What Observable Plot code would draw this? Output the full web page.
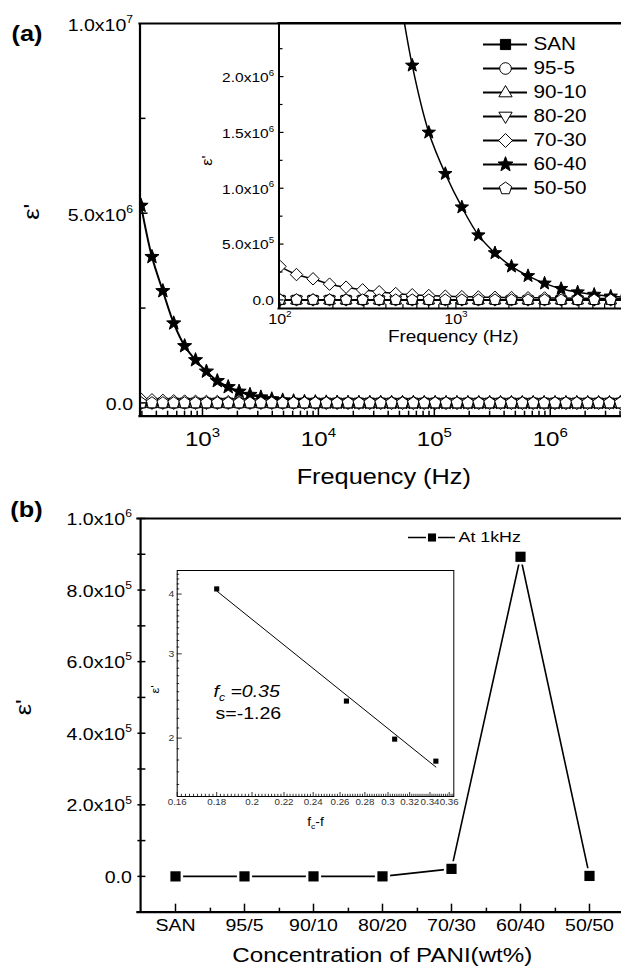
<!DOCTYPE html>
<html><head><meta charset="utf-8">
<script src="https://cdn.jsdelivr.net/npm/d3@7"></script>
<script src="https://cdn.jsdelivr.net/npm/@observablehq/plot@0.6"></script>
<style>
html,body{margin:0;padding:0;background:#fff;}
#fig{position:relative;width:621px;height:975px;overflow:hidden;background:#fff;}
#fig svg{position:absolute;left:0;top:0;}
</style></head>
<body><div id="fig"></div>
<script>
// ---------------- DATA ----------------
const freqHz = [100,124.2,154.2,191.4,237.7,295.1,366.4,454.9,564.8,701.3,
  870.7,1081,1342,1667,2069,2569,3190,3961,4918,6106,
  7581,9410,11685,14505,18013,22361,27765,34467,42795,53128,
  65963,81901,101709,126267,156780,194670,241680,300070,372590,462630,
  574350,713150,885480,1099500,1365000,1694700,2104200,2612700,3243800,4027200,5000000];
const seriesNames = ["SAN","95-5","90-10","80-20","70-30","60-40","50-50"];
const epsSAN = [3.3,3.3,3.2,3.2,3.2,3.2,3.2,3.1,3.1,3.1, 3.1,3.1,3.1,3.1,3.1,3.1,3.1,3.1,3.0,3.0,
  3.0,3.0,3.0,3.0,3.0,3.0,3.0,3.0,3.0,3.0, 3.0,3.0,3.0,3.0,3.0,2.9,2.9,2.9,2.9,2.9,
  2.9,2.9,2.9,2.9,2.9,2.9,2.9,2.9,2.9,2.9,2.9];
const eps95_5 = [9,9,8,8,8,8,7,7,7,7, 7,7,7,6,6,6,6,6,6,6, 6,6,6,6,6,6,6,6,6,6,
  5,5,5,5,5,5,5,5,5,5, 5,5,5,5,5,5,5,5,5,5,5];
const eps90_10 = [25,22,20,19,18,17,16,15,15,14, 14,13,13,13,12,12,12,12,11,11,
  11,11,11,11,10,10,10,10,10,10, 10,10,9,9,9,9,9,9,9,9, 9,9,9,9,8,8,8,8,8,8,8];
const eps80_20 = [120,105,95,88,82,77,73,70,67,64, 62,60,58,56,55,53,52,51,50,49,
  48,47,46,45,45,44,43,43,42,42, 41,41,40,40,40,39,39,39,38,38, 38,38,37,37,37,37,36,36,36,36,36];
const eps70_30 = [3.0e5,2.27e5,1.89e5,1.41e5,1.14e5,9.0e4,7.3e4,5.7e4,4.6e4,3.9e4,
  3.3e4,2.9e4,2.6e4,2.3e4,2.1e4,1.9e4,1.75e4,1.6e4,1.5e4,1.4e4,
  1.3e4,1.2e4,1.1e4,1.05e4,1.0e4,9.5e3,9.0e3,8.5e3,8.0e3,7.6e3,
  7.2e3,6.9e3,6.6e3,6.3e3,6.0e3,5.8e3,5.6e3,5.4e3,5.2e3,5.0e3,
  4.8e3,4.6e3,4.4e3,4.2e3,4.0e3,3.8e3,3.6e3,3.4e3,3.2e3,3.0e3,2.8e3];
const eps60_40 = [null,null,null,null,null,5.2e6,3.85e6,2.95e6,2.1e6,1.5e6,
  1.13e6,8.3e5,5.8e5,4.2e5,3.0e5,2.15e5,1.48e5,1.0e5,6.9e4,4.8e4,
  3.2e4,2.3e4,1.7e4,1.3e4,1.0e4,8.0e3,6.5e3,5.5e3,4.8e3,4.2e3,
  3.8e3,3.5e3,3.2e3,3.0e3,2.8e3,2.7e3,2.6e3,2.5e3,2.4e3,2.3e3,
  2.2e3,2.1e3,2.0e3,1.9e3,1.8e3,1.7e3,1.6e3,1.5e3,1.4e3,1.3e3,1.2e3];
const eps50_50 = [2400,2100,1900,1750,1650,1550,1480,1420,1370,1330, 1290,1260,1230,1200,1180,1160,1140,1120,1100,1090,
  1080,1070,1060,1050,1040,1030,1020,1010,1000,990, 980,970,960,950,940,930,920,910,900,890,
  880,870,860,850,840,830,820,810,800,790,780];

const catsB = ["SAN","95/5","90/10","80/20","70/30","60/40","50/50"];
const eps1kHz = [3.1, 7, 13, 60, 2.1e4, 8.93e5, 1.26e3];
const legendB = ["At 1kHz"];

const fcMinusF = [0.18, 0.265, 0.306, 0.346];
const epsInsetB = [4.1, 2.39, 1.99, 1.79];
const fitX = [0.18, 0.346];
const fitY = [4.06, 1.74];

// ticks and tick labels
const yTicksA = [0, 5e6, 1e7], yTickLabelsA = ["0.0", "5.0x10^6", "1.0x10^7"];
const xTicksA = [1e3, 1e4, 1e5, 1e6], xTickLabelsA = ["10^3", "10^4", "10^5", "10^6"];
const yTicksAi = [0, 5e5, 1e6, 1.5e6, 2e6], yTickLabelsAi = ["0.0", "5.0x10^5", "1.0x10^6", "1.5x10^6", "2.0x10^6"];
const xTicksAi = [1e2, 1e3], xTickLabelsAi = ["10^2", "10^3"];
const yTicksB = [0, 2e5, 4e5, 6e5, 8e5, 1e6], yTickLabelsB = ["0.0", "2.0x10^5", "4.0x10^5", "6.0x10^5", "8.0x10^5", "1.0x10^6"];
const yTicksBi = [2, 3, 4], yTickLabelsBi = ["2", "3", "4"];
const xTicksBi = [0.16,0.18,0.2,0.22,0.24,0.26,0.28,0.3,0.32,0.34,0.36];
const xTickLabelsBi = ["0.16","0.18","0.2","0.22","0.24","0.26","0.28","0.3","0.32","0.34","0.36"];

// ---------------- SYMBOLS ----------------
const rad = s => Math.sqrt(s / Math.PI);
const poly = (c, pts) => { pts.forEach(([x, y], i) => i ? c.lineTo(x, y) : c.moveTo(x, y)); c.closePath(); };
const symSquare = {draw(c, s) { const r = rad(s) * 0.88; poly(c, [[-r,-r],[r,-r],[r,r],[-r,r]]); }};
const symCircle = {draw(c, s) { const r = rad(s); c.moveTo(r, 0); c.arc(0, 0, r, 0, 2 * Math.PI); c.closePath(); }};
const symUp = {draw(c, s) { const r = rad(s) * 1.2; poly(c, [[0,-r],[r*0.95,r*0.62],[-r*0.95,r*0.62]]); }};
const symDown = {draw(c, s) { const r = rad(s) * 1.2; poly(c, [[0,r],[r*0.95,-r*0.62],[-r*0.95,-r*0.62]]); }};
const symDiamond = {draw(c, s) { const r = rad(s) * 1.2; poly(c, [[0,-r],[r,0],[0,r],[-r,0]]); }};
const symStar = {draw(c, s) { const R = rad(s) * 1.35, ri = R * 0.42; const p = [];
  for (let i = 0; i < 10; i++) { const a = -Math.PI / 2 + i * Math.PI / 5, rr = i % 2 ? ri : R; p.push([rr * Math.cos(a), rr * Math.sin(a)]); } poly(c, p); }};
const symPent = {draw(c, s) { const R = rad(s) * 1.12; const p = [];
  for (let i = 0; i < 5; i++) { const a = -Math.PI / 2 + i * 2 * Math.PI / 5; p.push([R * Math.cos(a), R * Math.sin(a)]); } poly(c, p); }};

const seriesA = [
  {name: "SAN", vals: epsSAN, sym: symSquare, fill: "black"},
  {name: "95-5", vals: eps95_5, sym: symCircle, fill: "white"},
  {name: "90-10", vals: eps90_10, sym: symUp, fill: "white"},
  {name: "80-20", vals: eps80_20, sym: symDown, fill: "white"},
  {name: "70-30", vals: eps70_30, sym: symDiamond, fill: "white"},
  {name: "60-40", vals: eps60_40, sym: symStar, fill: "black"},
  {name: "50-50", vals: eps50_50, sym: symPent, fill: "white"}
];
const rowsOf = s => freqHz.map((f, i) => ({f, v: s.vals[i]})).filter(d => d.v != null);

// ---------------- HELPERS ----------------
const fig = document.getElementById("fig");
const STYLE = "background:transparent;max-width:none;overflow:visible;font-family:'Liberation Sans',Arial,sans-serif;color:black;";
function mk(opts) { const svg = Plot.plot({...opts, style: STYLE}); fig.appendChild(svg); return svg; }
const ticksY = (vals, len, fw, sw = 1.5) => Plot.tickY(vals, {y: d => d, insetRight: fw - len, stroke: "black", strokeWidth: sw});
const ticksX = (vals, len, fh, sw = 1.5, extra = {}) => Plot.tickX(vals, {x: d => d, insetTop: fh - len, stroke: "black", strokeWidth: sw, ...extra});
const seriesMarks = (rDot, lw) => seriesA.flatMap(s => {
  const d = rowsOf(s);
  return [
    Plot.line(d, {x: "f", y: "v", curve: "catmull-rom", stroke: "black", strokeWidth: lw, clip: true}),
    Plot.dot(d, {x: "f", y: "v", symbol: s.sym, r: rDot, fill: s.fill, stroke: "black", strokeWidth: 1, clip: true})
  ];
});
const minorLog = (dom, mults, decs) => mults.flatMap(m => decs.map(d => m * d)).filter(v => v > dom[0] && v < dom[1]);

// ---------------- PANEL (a) MAIN ----------------
const A = {left: 139.5, width: 627, top: 23, bottom: 415.7, height: 500};
const xDomA = [289, 4.64e6], yDomA = [-3.5e5, 1.0e7];
const fwA = A.width - A.left, fhA = A.bottom - A.top;
mk({
  width: A.width, height: A.height, marginLeft: A.left, marginRight: 0, marginTop: A.top, marginBottom: A.height - A.bottom,
  x: {type: "log", domain: xDomA, axis: null}, y: {domain: yDomA, axis: null},
  marks: [
    ...seriesMarks(5.5, 2),
    Plot.ruleX([xDomA[0]], {stroke: "black", strokeWidth: 2.2}),
    Plot.ruleY([yDomA[0], yDomA[1]], {stroke: "black", strokeWidth: 2.2, strokeLinecap: "square"}),
    ticksY([0, 5e6], 8, fwA), ticksY([2.5e6, 7.5e6], 6, fwA),
    ticksX(xTicksA, 8, fhA), ticksX(minorLog(xDomA, [2,3,4,5,6,7,8,9], [1e2,1e3,1e4,1e5,1e6]), 5, fhA),
    Plot.text(yTicksA, {y: d => d, text: (d, i) => yTickLabelsA[i], frameAnchor: "left", textAnchor: "end", dx: -7, dy: 2, fontSize: 17}),
    Plot.text(xTicksA, {x: d => d, text: (d, i) => xTickLabelsA[i], frameAnchor: "bottom", dy: 30, fontSize: 21}),
    Plot.text(["Frequency (Hz)"], {text: d => d, frameAnchor: "bottom", dy: 68, fontSize: 22}),
    Plot.text(["ε'"], {text: d => d, frameAnchor: "left", dx: -107.8, rotate: -90, fontSize: 22}),
    Plot.text(["(a)"], {text: d => d, frameAnchor: "top-left", textAnchor: "middle", dx: -113, dy: 2, fontSize: 22, fontWeight: "bold"})
  ]
});

// ---------------- PANEL (a) INSET ----------------
const I = {left: 278.5, width: 627, top: 22.5, bottom: 308, height: 360};
const xDomI = [98.8, 9441], yDomI = [-7.7e4, 2.48e6];
const fwI = I.width - I.left, fhI = I.bottom - I.top;
mk({
  width: I.width, height: I.height, marginLeft: I.left, marginRight: 0, marginTop: I.top, marginBottom: I.height - I.bottom,
  x: {type: "log", domain: xDomI, axis: null}, y: {domain: yDomI, axis: null},
  marks: [
    ...seriesMarks(5.2, 1.5),
    Plot.ruleX([xDomI[0]], {stroke: "black", strokeWidth: 2}),
    Plot.ruleY([yDomI[0], yDomI[1]], {stroke: "black", strokeWidth: 2, strokeLinecap: "square"}),
    ticksY(yTicksAi, 5, fwI, 1.2), ticksY([2.5e5, 7.5e5, 1.25e6, 1.75e6, 2.25e6], 4, fwI, 1.2),
    ticksX(xTicksAi, 6, fhI, 1.2), ticksX(minorLog(xDomI, [2,3,4,5,6,7,8,9], [1e2,1e3]), 4, fhI, 1.2),
    Plot.text(yTicksAi, {y: d => d, text: (d, i) => yTickLabelsAi[i], frameAnchor: "left", textAnchor: "end", dx: -5, dy: 1, fontSize: 13.5}),
    Plot.text(xTicksAi, {x: d => d, text: (d, i) => xTickLabelsAi[i], frameAnchor: "bottom", dy: 15, fontSize: 14}),
    Plot.text(["Frequency (Hz)"], {text: d => d, frameAnchor: "bottom", dy: 33, fontSize: 16.5}),
    Plot.text(["ε'"], {text: d => d, frameAnchor: "left", dx: -71.8, rotate: -90, fontSize: 14})
  ]
});

// ---------------- LEGEND (a) ----------------
mk({
  width: 621, height: 220, marginLeft: 483, marginRight: 94, marginTop: 43.3, marginBottom: 30.7,
  x: {domain: [0, 1], axis: null}, y: {type: "point", domain: seriesNames, padding: 0, axis: null},
  marks: [
    Plot.ruleY(seriesNames, {y: d => d, x1: 0, x2: 1, stroke: "black", strokeWidth: 2}),
    ...seriesA.map(s => Plot.dot([s.name], {x: 0.5, y: d => d, symbol: s.sym, r: 5.8, fill: s.fill, stroke: "black", strokeWidth: 1})),
    Plot.text(seriesNames, {x: 1, y: d => d, text: d => d, dx: 6, textAnchor: "start", fontSize: 18})
  ]
});

// ---------------- PANEL (b) MAIN ----------------
const B = {left: 137.4, width: 626.2, top: 518, bottom: 911.7, height: 975};
const yDomB = [-1e5, 1e6];
const fwB = B.width - B.left, fhB = B.bottom - B.top;
const stepB = fwB / catsB.length;
const rowsB = catsB.map((c, i) => ({c, v: eps1kHz[i]}));
mk({
  width: B.width, height: B.height, marginLeft: B.left, marginRight: 0, marginTop: B.top, marginBottom: B.height - B.bottom,
  x: {type: "point", domain: catsB, padding: 0.5, axis: null}, y: {domain: yDomB, axis: null},
  marks: [
    Plot.line(rowsB, {x: "c", y: "v", stroke: "black", strokeWidth: 1.6}),
    Plot.dot(rowsB, {x: "c", y: "v", symbol: symSquare, r: 5.8, fill: "black", stroke: "white", strokeWidth: 5, paintOrder: "stroke"}),
    Plot.ruleY([yDomB[0], yDomB[1]], {stroke: "black", strokeWidth: 2.2, strokeLinecap: "square"}),
    Plot.ruleX([0], {x: () => catsB[0], dx: -stepB / 2, stroke: "black", strokeWidth: 2.2}),
    ticksY(yTicksB, 8, fwB), ticksY([1e5, 3e5, 5e5, 7e5, 9e5], 8, fwB),
    ticksX(catsB, 8, fhB), ticksX(catsB.slice(0, -1), 4, fhB, 1.5, {dx: stepB / 2}),
    Plot.text(yTicksB, {y: d => d, text: (d, i) => yTickLabelsB[i], frameAnchor: "left", textAnchor: "end", dx: -6, dy: 1, fontSize: 17}),
    Plot.text(catsB, {x: d => d, text: d => d, frameAnchor: "bottom", dy: 19, fontSize: 17}),
    Plot.text(["Concentration of PANI(wt%)"], {text: d => d, frameAnchor: "bottom", dy: 50, fontSize: 21}),
    Plot.text(["ε'"], {text: d => d, frameAnchor: "left", dx: -114.4, rotate: -90, fontSize: 22}),
    Plot.text(["(b)"], {text: d => d, frameAnchor: "top-left", textAnchor: "middle", dx: -111.4, dy: -17, fontSize: 22, fontWeight: "bold"})
  ]
});

// ---------------- LEGEND (b) ----------------
mk({
  width: 621, height: 975, marginLeft: 408, marginRight: 166, marginTop: 526.7, marginBottom: 428.3,
  x: {domain: [0, 1], axis: null}, y: {type: "point", domain: legendB, padding: 0.5, axis: null},
  marks: [
    Plot.ruleY(legendB, {y: d => d, x1: 0, x2: 1, stroke: "black", strokeWidth: 1.5}),
    Plot.dot(legendB, {x: 0.5, y: d => d, symbol: symSquare, r: 4.6, fill: "black", stroke: "white", strokeWidth: 4, paintOrder: "stroke"}),
    Plot.text(legendB, {x: 1, y: d => d, text: d => d, dx: 3, textAnchor: "start", fontSize: 15.5})
  ]
});

// ---------------- PANEL (b) INSET ----------------
const Bi = {left: 176.7, right: 453.3, top: 570, bottom: 796, width: 621, height: 975};
const xDomBi = [0.16, 0.365], yDomBi = [1.51, 4.48];
const fwBi = Bi.right - Bi.left, fhBi = Bi.bottom - Bi.top;
const yMinorBi = d3.range(16, 45).map(v => v / 10).filter(v => v % 1 !== 0);
const xMinorBi = d3.range(80, 183).map(v => v / 500).filter(v => Math.abs(v * 50 - Math.round(v * 50)) > 1e-6);
mk({
  width: Bi.width, height: Bi.height, marginLeft: Bi.left, marginRight: Bi.width - Bi.right, marginTop: Bi.top, marginBottom: Bi.height - Bi.bottom,
  x: {type: "log", domain: xDomBi, axis: null}, y: {type: "log", domain: yDomBi, axis: null},
  marks: [
    Plot.frame({stroke: "black", strokeWidth: 1}),
    ticksY(yTicksBi, 5, fwBi, 0.8), ticksY(yMinorBi, 2.5, fwBi, 0.8),
    ticksX(xTicksBi, 4, fhBi, 0.8), ticksX(xMinorBi, 2.2, fhBi, 0.8),
    Plot.line(fitX.map((x, i) => ({x, y: fitY[i]})), {x: "x", y: "y", stroke: "black", strokeWidth: 1}),
    Plot.dot(fcMinusF.map((x, i) => ({x, y: epsInsetB[i]})), {x: "x", y: "y", symbol: symSquare, r: 2.9, fill: "black"}),
    Plot.text(yTicksBi, {y: d => d, text: (d, i) => yTickLabelsBi[i], frameAnchor: "left", textAnchor: "end", dx: -3, fontSize: 9, fill: "#333"}),
    Plot.text(xTicksBi, {x: d => d, text: (d, i) => xTickLabelsBi[i], frameAnchor: "bottom", dy: 8, fontSize: 8.5, fill: "#333"}),
    Plot.text(["f_c-f"], {text: d => d, frameAnchor: "bottom", dy: 29, fontSize: 12}),
    Plot.text(["ε'"], {text: d => d, frameAnchor: "left", dx: -21.7, dy: 10, rotate: -90, fontSize: 11}),
    Plot.text(["f_c =0.35"], {text: d => d, frameAnchor: "top-left", textAnchor: "start", dx: 36.3, dy: 114, fontSize: 17, fontStyle: "italic"}),
    Plot.text(["s=-1.26"], {text: d => d, frameAnchor: "top-left", textAnchor: "start", dx: 38.3, dy: 136.7, fontSize: 17})
  ]
});

// ---------------- TEXT POST-PROCESSING (super/subscripts, glyph width) ----------------
const NS = "http://www.w3.org/2000/svg";
fig.querySelectorAll("text").forEach(t => {
  if (t.querySelector("tspan")) return;
  const s = t.textContent;
  if (!/[\^_]/.test(s)) return;
  const fs = parseFloat(getComputedStyle(t).fontSize) || 10;
  t.textContent = "";
  let cur = 0, last = 0, m;
  const add = (txt, off, small) => {
    const sp = document.createElementNS(NS, "tspan");
    sp.textContent = txt;
    const target = off * fs;
    if (target !== cur) { sp.setAttribute("dy", target - cur); cur = target; }
    if (small) sp.setAttribute("font-size", fs * 0.62);
    t.appendChild(sp);
  };
  const re = /([\^_])(.)/g;
  while ((m = re.exec(s))) {
    if (m.index > last) add(s.slice(last, m.index), 0, false);
    add(m[2], m[1] === "^" ? -0.45 : 0.25, true);
    last = re.lastIndex;
  }
  if (last < s.length) add(s.slice(last), 0, false);
});
fig.querySelectorAll("text").forEach(t => {
  const tr = t.getAttribute("transform") || "";
  t.setAttribute("transform", tr + " scale(1.15,1)");
});
</script>
</body></html>
